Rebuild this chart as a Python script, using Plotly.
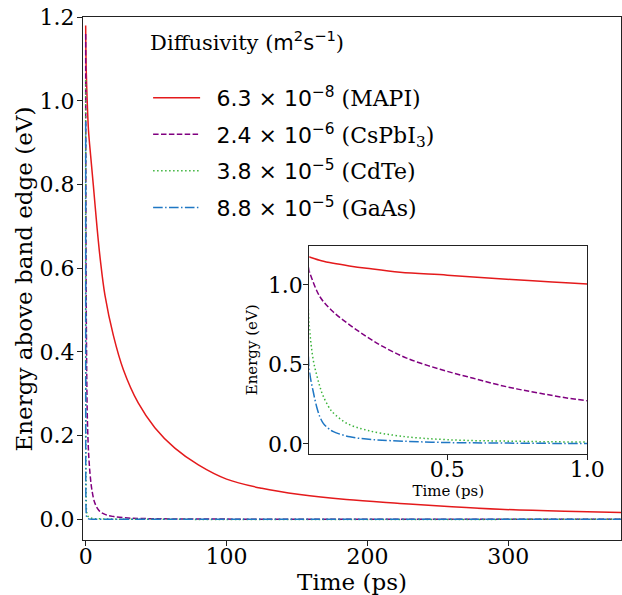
import plotly.graph_objects as go

# ---- data (time in ps, energy in eV) ----
t_mapi = [0, 0.007, 0.05, 0.093, 0.15, 0.212, 0.331, 0.5, 0.712, 1.0, 2.0, 3.5, 5.4, 8.0, 10.4,
          13.7, 19.6, 26.7, 37.3, 49.1, 63.3, 80, 100, 125, 152, 185, 223, 260, 294, 340, 380]
e_mapi = [1.18, 1.176, 1.152, 1.136, 1.12, 1.105, 1.08, 1.062, 1.036, 1.006, 0.93, 0.87, 0.80, 0.70, 0.62,
          0.535, 0.44, 0.358, 0.278, 0.219, 0.17, 0.13, 0.096, 0.074, 0.059, 0.047, 0.038, 0.030, 0.024, 0.019, 0.016]

t_cspbi3 = [0, 0.007, 0.01, 0.045, 0.093, 0.152, 0.212, 0.271, 0.355, 0.474, 0.593, 0.712, 0.831, 1.0,
            1.5, 2.2, 3.2, 4.3, 6.6, 10, 15, 20, 30, 40, 60, 100, 200, 380]
e_cspbi3 = [1.16, 1.085, 1.07, 0.926, 0.83, 0.748, 0.675, 0.612, 0.54, 0.47, 0.413, 0.36, 0.319, 0.272,
            0.205, 0.15, 0.105, 0.073, 0.038, 0.019, 0.010, 0.0065, 0.003, 0.0018, 0.0009, 0.0004, 0.0002, 0.0001]

t_cdte = [0, 0.007, 0.021, 0.034, 0.045, 0.057, 0.081, 0.093, 0.141, 0.212, 0.331, 0.5, 0.75, 1.0,
          2, 5, 10, 50, 380]
e_cdte = [1.05, 0.745, 0.53, 0.43, 0.36, 0.30, 0.22, 0.195, 0.13, 0.087, 0.05, 0.027, 0.017, 0.012,
          0.006, 0.002, 0.001, 0.0, 0.0]

t_gaas = [0, 0.007, 0.021, 0.034, 0.045, 0.057, 0.075, 0.093, 0.152, 0.22, 0.3, 0.474, 0.7, 1.0,
          2, 5, 10, 50, 380]
e_gaas = [0.95, 0.47, 0.33, 0.23, 0.17, 0.13, 0.098, 0.078, 0.045, 0.03, 0.021, 0.01, 0.006, 0.003,
          0.001, 0.0, 0.0, 0.0, 0.0]

SANS = "DejaVu Sans"
PAD = "\u00a0\u2009"
labels = [
    f"{PAD}<span style='font-family:{SANS}'>6.3 × 10<sup>−8</sup></span> (MAPI)",
    f"{PAD}<span style='font-family:{SANS}'>2.4 × 10<sup>−6</sup></span> (CsPbI<sub>3</sub>)",
    f"{PAD}<span style='font-family:{SANS}'>3.8 × 10<sup>−5</sup></span> (CdTe)",
    f"{PAD}<span style='font-family:{SANS}'>8.8 × 10<sup>−5</sup></span> (GaAs)",
]
series = [(t_mapi, e_mapi), (t_cspbi3, e_cspbi3), (t_cdte, e_cdte), (t_gaas, e_gaas)]
colors = ["#e41a1c", "#800080", "#3cb43c", "#1f77c4"]
dashes = ["solid", "5.5px,2.4px", "1.5px,2.5px", "9.6px,2.4px,1.5px,2.4px"]

fig = go.Figure()
for i, ((t, e), lab, c, d) in enumerate(zip(series, labels, colors, dashes)):
    fig.add_trace(go.Scatter(x=t, y=e, mode="lines", name=lab, legendgroup=f"g{i}",
                             line=dict(color=c, width=1.5, dash=d, shape="spline", smoothing=1.0),
                             xaxis="x", yaxis="y"))
for i, ((t, e), lab, c, d) in enumerate(zip(series, labels, colors, dashes)):
    fig.add_trace(go.Scatter(x=t, y=e, mode="lines", name=lab, legendgroup=f"g{i}", showlegend=False,
                             line=dict(color=c, width=1.5, dash=d, shape="spline", smoothing=1.0),
                             xaxis="x2", yaxis="y2"))

axis_common = dict(showline=True, linecolor="#222", linewidth=1, mirror=True, showgrid=False,
                   zeroline=False, ticks="outside", ticklen=5, tickwidth=1, tickcolor="#222",
                   automargin=False, ticklabeloverflow="allow",
                   tickfont=dict(family="DejaVu Serif", size=22, color="black"))

fig.update_layout(
    width=622, height=595, autosize=False,
    margin=dict(l=83, r=1, t=17, b=55),
    paper_bgcolor="white", plot_bgcolor="white",
    font=dict(family="DejaVu Serif", size=21, color="black"),
    xaxis=dict(domain=[0, 1], anchor="y", range=[-1.9, 380], tickvals=[0, 100, 200, 300],
               ticklabelstandoff=-8,
               title=dict(text="Time (ps)", font=dict(size=23), standoff=12), **axis_common),
    yaxis=dict(domain=[0, 1], anchor="x", range=[-0.0495, 1.2005],
               tickvals=[0, 0.2, 0.4, 0.6, 0.8, 1.0, 1.2], tickformat=".1f", ticklabelstandoff=-2,
               **axis_common),
    xaxis2=dict(domain=[0.4206, 0.9374], anchor="y2", range=[0.007, 1.0], tickvals=[0.5, 1.0],
                tickformat=".1f", ticklabelstandoff=-9,
                title=dict(text="Time (ps)", font=dict(size=15), standoff=3),
                **axis_common),
    yaxis2=dict(domain=[0.1644, 0.5627], anchor="x2", range=[-0.063, 1.247], tickvals=[0, 0.5, 1.0],
                tickformat=".1f", ticklabelstandoff=-4,
                title=dict(text="Energy (eV)", font=dict(size=15), standoff=6),
                **axis_common),
    legend=dict(x=0.121, y=0.990, xanchor="left", yanchor="top", bgcolor="rgba(0,0,0,0)",
                borderwidth=0, font=dict(family="DejaVu Serif", size=22, color="black"),
                tracegroupgap=5, itemwidth=47,
                title=dict(text=f"Diffusivity (<span style='font-family:{SANS}'>m<sup>2</sup>s<sup>−1</sup></span>)<br> ",
                           font=dict(family="DejaVu Serif", size=21), side="top")),
    showlegend=True,
    annotations=[dict(text="Energy above band edge (eV)", xref="paper", yref="paper",
                      x=-0.1097, y=0.5, xanchor="center", yanchor="middle", textangle=-90,
                      showarrow=False, font=dict(family="DejaVu Serif", size=23, color="black"))],
)

# remove the default page margin so the 622x595 figure fills the window exactly
fig.write_html("out.html", config={"displayModeBar": False},
               post_script="document.body.style.margin='0';")
